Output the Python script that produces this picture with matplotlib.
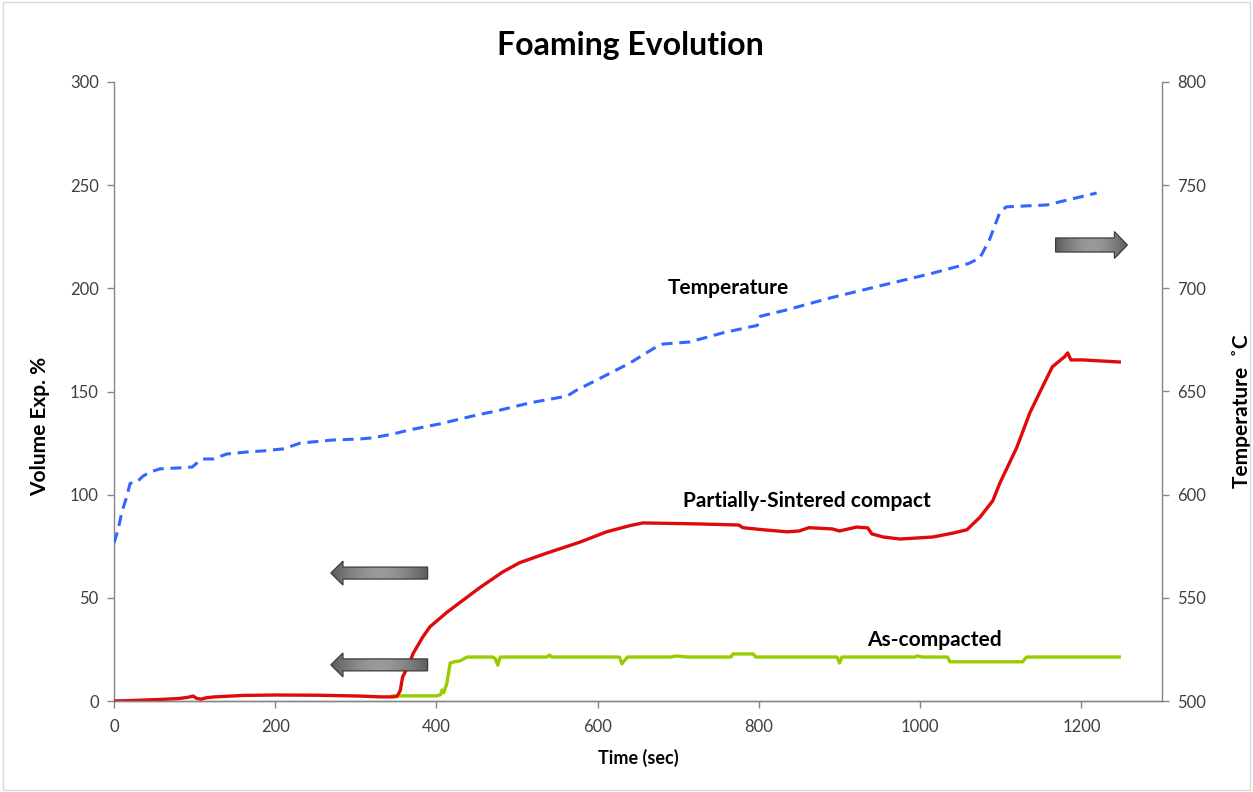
import numpy as np
import matplotlib
matplotlib.use("Agg")
import matplotlib.pyplot as plt
from matplotlib.patches import Polygon, Rectangle

plt.rcParams['font.family'] = ['Lato', 'DejaVu Sans']

# ---- data -------------------------------------------------------------
time_temp = [0, 5, 10, 15, 20, 28, 36, 45, 57, 82, 97, 105, 110, 123, 140, 165,
             185, 210, 220, 231, 272, 305, 320, 346, 367, 404, 450, 475, 516,
             562, 574, 599, 640, 670, 681, 714, 755, 789, 798, 802, 834, 888,
             950, 1012, 1060, 1074, 1086, 1099, 1107, 1157, 1219]
temperature = [576.6, 583, 592, 598, 605.5, 606, 609, 611, 612.5, 613, 613.4,
               616, 617.3, 617.3, 619.7, 620.7, 621.2, 622.2, 623.5, 625, 626.5,
               627, 627.5, 629.4, 631.4, 634.3, 638.6, 640.6, 644.5, 647.8,
               650.7, 655.6, 663.8, 671, 673, 674, 678.4, 681.3, 682, 686.5,
               689.5, 695.3, 701.2, 707, 712, 714.7, 723.5, 737, 739.5, 740.4,
               746.2]

time_sintered = [0, 20, 40, 60, 80, 92, 98, 103, 108, 115, 125, 140, 160, 200,
                 250, 280, 305, 330, 346, 351, 355, 358, 365, 371, 383, 392,
                 413, 430, 454, 482, 503, 537, 578, 611, 640, 656, 702, 727,
                 775, 780, 805, 835, 850, 862, 891, 900, 921, 935, 940, 954,
                 975, 996, 1016, 1041, 1058, 1074, 1090, 1099, 1120, 1136,
                 1148, 1164, 1179, 1183, 1187, 1202, 1247]
vol_sintered = [0, 0.2, 0.5, 0.8, 1.2, 1.8, 2.4, 1.2, 0.9, 1.6, 2.0, 2.3, 2.7,
                2.9, 2.8, 2.6, 2.4, 2.0, 2.0, 2.2, 5, 11.6, 17, 23, 31, 36, 43,
                48, 55, 62.5, 67, 71.7, 77, 82, 85, 86.3, 86, 85.8, 85.3, 84,
                83, 82, 82.4, 84, 83.4, 82.4, 84.3, 83.9, 81, 79.5, 78.5, 79,
                79.5, 81.4, 83, 89, 97, 105.7, 123, 139.6, 149.3, 162, 166.8,
                168.7, 165.3, 165.3, 164.3]

time_compacted = [346, 400, 405, 407, 409, 413, 417, 422, 429, 438, 470, 473,
                  476, 479, 537, 540, 543, 627, 630, 633, 637, 690, 698, 712,
                  765, 768, 793, 796, 897, 900, 903, 993, 996, 1003, 1034,
                  1037, 1127, 1132, 1247]
vol_compacted = [2.5, 2.5, 3, 5.3, 4, 8.7, 18.4, 19, 19.4, 21.3, 21.3, 20.5,
                 17.4, 21.3, 21.3, 22.3, 21.3, 21.3, 18, 19.5, 21.3, 21.3, 21.8,
                 21.3, 21.3, 22.8, 22.8, 21.3, 21.3, 18.4, 21.3, 21.3, 21.8,
                 21.3, 21.3, 19, 19, 21.3, 21.3]

x_ticks = [0, 200, 400, 600, 800, 1000, 1200]
vol_ticks = [0, 50, 100, 150, 200, 250, 300]
temp_ticks = [500, 550, 600, 650, 700, 750, 800]

# ---- figure -----------------------------------------------------------
W, H = 1253, 792
fig = plt.figure(figsize=(W / 100, H / 100), dpi=100)
fig.patch.set_facecolor('white')
fig.add_artist(Rectangle((0.002, 0.003), 0.996, 0.994, transform=fig.transFigure,
                         fill=False, edgecolor='#d9d9d9', linewidth=1))

ax = fig.add_axes([114 / W, 1 - 701 / H, (1162 - 114) / W, (701 - 82) / H])
ax2 = ax.twinx()

grey = '#868686'
tick_col = '#404040'
for a in (ax, ax2):
    a.set_facecolor('none')
    a.spines['top'].set_visible(False)
    for s in ('left', 'right', 'bottom'):
        a.spines[s].set_color(grey)
        a.spines[s].set_linewidth(1)
    a.tick_params(colors=grey, labelcolor=tick_col, labelsize=12, length=5,
                  width=1, direction='out')

ax.plot(time_compacted, vol_compacted, color='#99CC00', lw=2.4,
        solid_joinstyle='round', zorder=3)
ax.plot(time_sintered, vol_sintered, color='#E00A0A', lw=2.4,
        solid_joinstyle='round', zorder=4)
ax2.plot(time_temp, temperature, color='#3366FF', lw=2.2,
         linestyle=(0, (3.6, 2.2)), zorder=3)

ax.set_xlim(0, 1300)
ax.set_ylim(0, 300)
ax2.set_ylim(500, 800)
ax.set_xticks(x_ticks)
ax.set_yticks(vol_ticks)
ax2.set_yticks(temp_ticks)
ax.spines['right'].set_visible(False)
ax2.spines['left'].set_visible(False)
ax.tick_params(axis='x', pad=8)
ax.tick_params(axis='y', pad=6)
ax2.tick_params(axis='y', pad=6)

ax.set_xlabel('Time (sec)', fontsize=13, fontweight='bold', labelpad=10)
ax.set_ylabel('Volume Exp. %', fontsize=15, fontweight='bold')
ax2.set_ylabel('Temperature  \u02daC', fontsize=15, fontweight='bold',
               rotation=90)
ax.yaxis.set_label_coords(-0.061, 0.444)
ax2.yaxis.set_label_coords(1.067, 0.4685)
fig.text(0.503, 0.943, 'Foaming Evolution', ha='center', va='center',
         fontsize=23, fontweight='bold')

# series annotations
ax.text(762, 200.2, 'Temperature', ha='center', va='center', fontsize=15,
        fontweight='bold')
ax.text(860, 97, 'Partially-Sintered compact', ha='center', va='center',
        fontsize=15, fontweight='bold')
ax.text(1018, 29.6, 'As-compacted', ha='center', va='center', fontsize=15,
        fontweight='bold')


# ---- block arrows showing which axis each series belongs to ----------
def block_arrow(axis, x_tail, x_base, x_tip, yc, body, head):
    verts = [(x_tail, yc - body), (x_base, yc - body), (x_base, yc - head),
             (x_tip, yc), (x_base, yc + head), (x_base, yc + body),
             (x_tail, yc + body)]
    poly = Polygon(verts, closed=True, facecolor='none', edgecolor='#3c3c3c',
                   linewidth=0.9, zorder=6)
    axis.add_patch(poly)
    xs = np.linspace(0, 1, 256)
    shade = 0.36 + 0.24 * np.sin(np.pi * xs)
    grad = np.tile(shade, (2, 1))
    x0, x1 = min(x_tail, x_tip), max(x_tail, x_tip)
    im = axis.imshow(grad, cmap='gray', vmin=0, vmax=1, aspect='auto',
                     extent=(x0, x1, yc - head, yc + head), zorder=5,
                     interpolation='bilinear')
    im.set_clip_path(poly)


block_arrow(ax, 389, 284, 269, 62.0, 2.9, 5.8)
block_arrow(ax, 389, 284, 269, 17.5, 2.9, 5.8)
block_arrow(ax, 1168, 1241, 1257, 221, 3.4, 6.5)

ax.set_xlim(0, 1300)
ax.set_ylim(0, 300)

fig.savefig('out.png', dpi=100)
